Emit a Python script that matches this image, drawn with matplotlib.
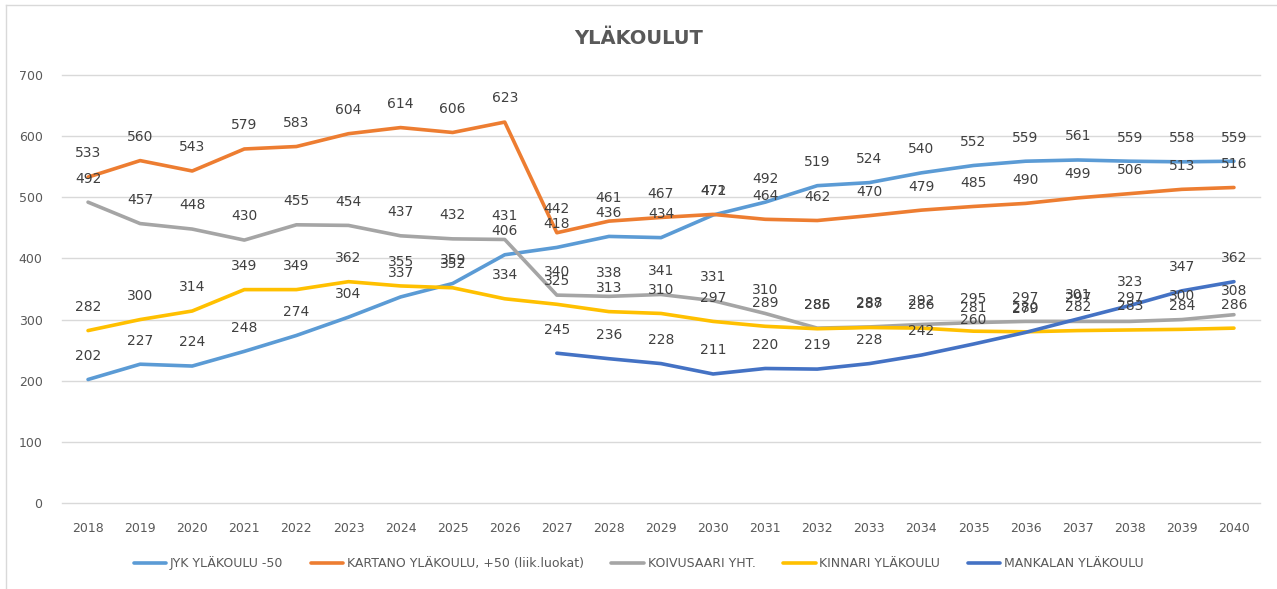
import matplotlib
matplotlib.use("Agg")
import matplotlib.pyplot as plt
from matplotlib.lines import Line2D
import numpy as np

years = [str(y) for y in range(2018, 2041)]

jyk = [202, 227, 224, 248, 274, 304, 337, 359, 406, 418, 436, 434, 471, 492, 519, 524, 540, 552, 559, 561, 559, 558, 559]
kartano = [533, 560, 543, 579, 583, 604, 614, 606, 623, 442, 461, 467, 472, 464, 462, 470, 479, 485, 490, 499, 506, 513, 516]
koivusaari = [492, 457, 448, 430, 455, 454, 437, 432, 431, 340, 338, 341, 331, 310, 286, 288, 292, 295, 297, 297, 297, 300, 308]
kinnari = [282, 300, 314, 349, 349, 362, 355, 352, 334, 325, 313, 310, 297, 289, 285, 287, 286, 281, 280, 282, 283, 284, 286]
mankala = [None] * 9 + [245, 236, 228, 211, 220, 219, 228, 242, 260, 279, 301, 323, 347, 362]

series = [
    ("JYK YLÄKOULU -50", jyk, "#5B9BD5"),
    ("KARTANO YLÄKOULU, +50 (liik.luokat)", kartano, "#ED7D31"),
    ("KOIVUSAARI YHT.", koivusaari, "#A5A5A5"),
    ("KINNARI YLÄKOULU", kinnari, "#FFC000"),
    ("MANKALAN YLÄKOULU", mankala, "#4472C4"),
]

plt.rcParams['font.family'] = ['DejaVu Sans']
fig = plt.figure(figsize=(12.77, 5.89), dpi=100)
ax = fig.add_axes([62 / 1277, 86 / 589, (1260 - 62) / 1277, (503 - 75) / 589])

x = np.arange(len(years))
txt_color = "#595959"
for name, vals, col in series:
    xs = [i for i, v in zip(x, vals) if v is not None]
    ys = [v for v in vals if v is not None]
    ax.plot(xs, ys, color=col, lw=2.6, label=name, solid_capstyle='round',
            solid_joinstyle='round', zorder=3)
for name, vals, col in series:
    for i, v in zip(x, vals):
        if v is None:
            continue
        ax.annotate(str(v), (i, v), xytext=(0, 17), textcoords='offset points',
                    ha='center', va='center', fontsize=10, color="#404040", zorder=4)

ax.set_xlim(-0.5, len(years) - 0.5)
ax.set_ylim(0, 700)
ax.set_yticks(range(0, 701, 100))
ax.set_xticks(x)
ax.set_xticklabels(years)
ax.tick_params(axis='both', length=0, colors=txt_color, labelsize=9)
ax.tick_params(axis='x', pad=14)
ax.tick_params(axis='y', pad=14)
ax.grid(axis='y', color="#D9D9D9", lw=1)
for gl in ax.get_ygridlines():
    gl.set_clip_on(False)
ax.set_axisbelow(True)
for s in ax.spines.values():
    s.set_visible(False)

fig.text(0.5, 1 - 38 / 589, "YLÄKOULUT", ha='center', va='center', fontsize=14,
         fontweight='bold', color=txt_color)

fig.legend(loc='center', bbox_to_anchor=(0.5, 1 - 563 / 589), ncol=5, frameon=False,
           fontsize=9, labelcolor=txt_color, handlelength=2.6, columnspacing=2.2, handletextpad=0.3)

# chart-area border (left and top edges visible in the reference)
fig.add_artist(Line2D([6 / 1277, 6 / 1277], [0, 1 - 5 / 589], transform=fig.transFigure,
                      color="#D9D9D9", lw=1))
fig.add_artist(Line2D([6 / 1277, 1], [1 - 5 / 589, 1 - 5 / 589], transform=fig.transFigure,
                      color="#D9D9D9", lw=1))

fig.savefig("out.png", dpi=100)
